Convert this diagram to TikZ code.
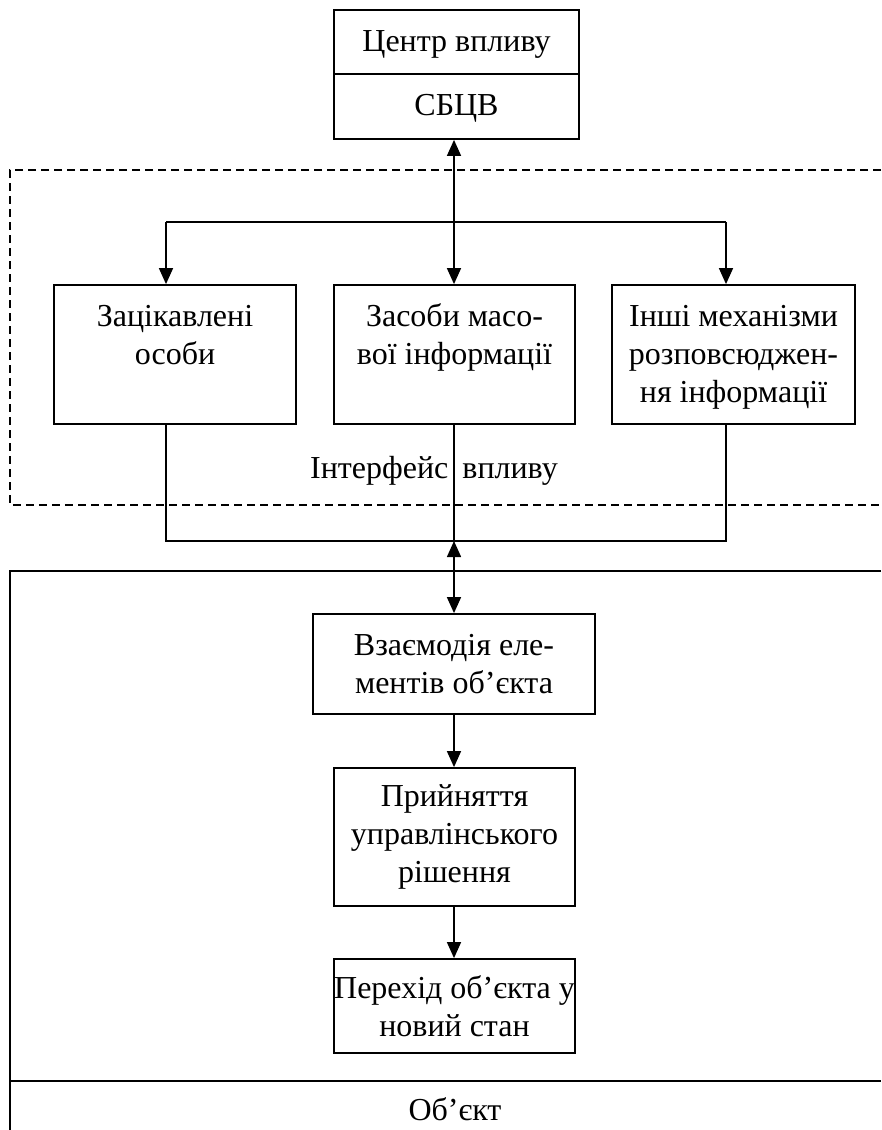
\documentclass[tikz,border=0pt]{standalone}
\usepackage{fontspec}
\setmainfont{Liberation Serif}
\usetikzlibrary{arrows.meta}
\begin{document}
\begin{tikzpicture}[x=1pt,y=-1pt,
  font=\fontsize{32}{38}\selectfont,
  box/.style={draw,line width=1.8pt,inner sep=0pt,align=center,minimum width=#1},
  box/.default=241pt,
  txt/.style={inner sep=0pt,align=center},
  conn/.style={line width=1.5pt},
  tip/.tip={Triangle[length=16pt,width=14pt]},
  arr/.style={conn,-tip},
  frame/.style={line width=1.7pt},
  dframe/.style={line width=1.4pt,dash pattern=on 8pt off 5pt}]
\useasboundingbox (0,0) rectangle (881,1130);
% frames
\draw[dframe] (881,170) -- (10,170) -- (10,505) -- (881,505);
\draw[frame] (881,571) -- (10,571) -- (10,1130);
\draw[frame] (10,1081) -- (881,1081);
\node[txt] (obj) at (455,1109) {Об’єкт};
% top box
\node[box=245pt,minimum height=64pt,text height=21pt,text depth=3pt] (ct) at (456.5,42) {Центр впливу};
\node[box=245pt,minimum height=65pt,text height=21pt,text depth=3pt] (cs) at (456.5,106.5) {СБЦВ};
% middle row
\node[box=242pt,minimum height=139pt] (b1) at (175,354.5) {};
\node[box=241pt,minimum height=139pt] (b2) at (454.5,354.5) {};
\node[box=243pt,minimum height=139pt] (b3) at (733.5,354.5) {};
\node[txt,anchor=north] (t1) at (175,299.5) {\strut Зацікавлені\\особи};
\node[txt,anchor=north] (t2) at (454.5,299.5) {\strut Засоби масо-\\вої інформації};
\node[txt,anchor=north] (t3) at (733.5,299.5) {\strut Інші механізми\\розповсюджен-\\ня інформації};
% lower boxes
\node[box=282pt,minimum height=100pt] (vz) at (454,664) {Взаємодія еле-\\ментів об’єкта};
\node[box=241pt,minimum height=138pt] (pr) at (454.5,837) {Прийняття\\управлінського\\рішення};
\node[box=241pt,minimum height=94pt] (pe) at (454.5,1006) {Перехід об’єкта у\\новий стан};
% interface label
\node[txt,anchor=base] (ifc) at (434,478) {Інтерфейс\hspace{14pt}впливу};
% junction coordinates
\coordinate (jt) at (454,222);
\coordinate (jtl) at (166,222);
\coordinate (jtr) at (726,222);
\coordinate (jb) at (454,541);
\coordinate (jbl) at (166,541);
\coordinate (jbr) at (726,541);
% top connectors
\draw[arr] (jt) -- (cs.south -| jt);
\draw[arr] (jt) -- (b2.north -| jt);
\draw[conn] (jtl) -- (jtr);
\draw[arr] (jtl) -- (b1.north -| jtl);
\draw[arr] (jtr) -- (b3.north -| jtr);
% bottom connectors
\draw[conn] (b1.south -| jbl) -- (jbl) -- (jbr) -- (b3.south -| jbr);
\draw[conn] (b2.south -| jb) -- (jb);
\draw[conn,tip-tip] (jb) -- (vz.north -| jb);
\draw[arr] (vz.south -| jb) -- (pr.north -| jb);
\draw[arr] (pr.south -| jb) -- (pe.north -| jb);
\end{tikzpicture}
\end{document}
